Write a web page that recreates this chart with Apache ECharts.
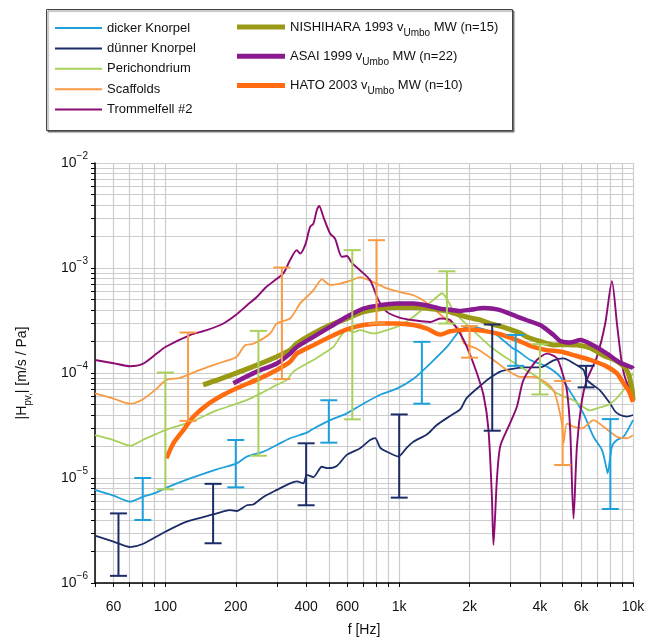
<!DOCTYPE html>
<html><head><meta charset="utf-8">
<script src="https://cdn.jsdelivr.net/npm/echarts@6/dist/echarts.min.js"></script>
<style>html,body{margin:0;padding:0;background:#fff}#c{width:648px;height:642px}</style>
</head><body><div id="c"></div>
<script>
const FONT = "'Liberation Sans', Arial, Helvetica, sans-serif";

// ---- axis ticks ----
const xGridValues = [50,60,70,80,90,100,200,300,400,500,600,700,800,900,1000,2000,3000,4000,5000,6000,7000,8000,9000,10000];
const xLabelValues = [60,100,200,400,600,1000,2000,4000,6000,10000];
const yGridValues = [1e-6,2e-6,3e-6,4e-6,5e-6,6e-6,7e-6,8e-6,9e-6,1e-5,2e-5,3e-5,4e-5,5e-5,6e-5,7e-5,8e-5,9e-5,1e-4,2e-4,3e-4,4e-4,5e-4,6e-4,7e-4,8e-4,9e-4,1e-3,2e-3,3e-3,4e-3,5e-3,6e-3,7e-3,8e-3,9e-3,1e-2];
const yLabelValues = [1e-6,1e-5,1e-4,1e-3,1e-2];

// ---- series data: [frequency Hz, |H| m/s/Pa] ----
const dickerKnorpel = [[50,7.7e-6],[60,6.8e-6],[70.6,5.96e-6],[80,6.6e-6],[91.8,7.3e-6],[100,8e-6],[127.5,9.9e-6],[165.9,1.21e-5],[201.9,1.38e-5],[222.9,1.6e-5],[262.5,1.78e-5],[299.6,2.06e-5],[341.5,2.39e-5],[402.6,2.7e-5],[429.6,2.95e-5],[506.4,3.56e-5],[597,4.13e-5],[703.3,5.1e-5],[829,6.2e-5],[977.2,7.1e-5],[1151,8.8e-5],[1357,1.23e-4],[1599,1.77e-4],[1822,2.56e-4],[1947,2.75e-4],[2011,2.8e-4],[2292,2.62e-4],[2530,2.4e-4],[2750,2.1e-4],[3082,1.7e-4],[3187,1.65e-4],[3634,1.33e-4],[4283,1.15e-4],[4884,9.2e-5],[5567,5.9e-5],[6144,4.1e-5],[6777,2.47e-5],[7363,1.85e-5],[7736,1.19e-5],[7790,1.11e-5],[8127,2e-5],[8537,2.3e-5],[9110,2.47e-5],[10000,3.56e-5]];
const duennerKnorpel = [[50,2.83e-6],[60,2.48e-6],[70.6,2.2e-6],[80,2.35e-6],[100,3.08e-6],[123.4,3.84e-6],[165.9,4.6e-6],[177,4.8e-6],[189,4.95e-6],[201.9,4.85e-6],[222.9,5.5e-6],[237.8,5.6e-6],[262.5,6.6e-6],[299.6,7.7e-6],[341.5,8.9e-6],[364.8,9.3e-6],[389.3,8.9e-6],[402.6,1.07e-5],[429.6,1.02e-5],[466.6,1.28e-5],[494,1.24e-5],[541,1.3e-5],[597,1.66e-5],[680.7,1.92e-5],[751.2,2.3e-5],[789.1,2.4e-5],[829,1.95e-5],[885.4,1.78e-5],[992.7,1.6e-5],[1078,1.95e-5],[1151,2.22e-5],[1313,2.6e-5],[1449,3.2e-5],[1651,3.9e-5],[1822,4.5e-5],[1947,5.8e-5],[2292,8e-5],[2449,9e-5],[2704,1.03e-4],[2888,1.07e-4],[3401,1.13e-4],[4010,1.13e-4],[4573,1.32e-4],[5045,1.38e-4],[5567,1.24e-4],[6144,1.07e-4],[6350,8.6e-5],[7240,6.8e-5],[7991,5.1e-5],[8395,4.3e-5],[8818,3.98e-5],[9420,3.85e-5],[10000,3.98e-5]];
const perichondrium = [[50,2.56e-5],[60,2.3e-5],[70.6,2.03e-5],[80,2.3e-5],[100,2.86e-5],[127.5,3.4e-5],[165.9,4.4e-5],[201.9,5.1e-5],[230.2,5.7e-5],[262.5,6.6e-5],[299.6,7.7e-5],[330.6,8.6e-5],[352.8,1.03e-4],[402.6,1.23e-4],[429.6,1.33e-4],[474,1.53e-4],[523.1,1.77e-4],[558.9,2.21e-4],[597,2.56e-4],[640,2.45e-4],[680.7,2.56e-4],[776,2.38e-4],[885.4,2.56e-4],[1010,2.86e-4],[1151,3.43e-4],[1313,4.4e-4],[1449,5.3e-4],[1522,5.75e-4],[1599,5.1e-4],[1706,3.9e-4],[1882,3.1e-4],[2148,2.35e-4],[2449,1.8e-4],[2888,1.38e-4],[3401,1.1e-4],[3881,9.2e-5],[4010,8.6e-5],[4728,6.4e-5],[5567,5.5e-5],[6560,4.4e-5],[7008,4.6e-5],[7991,5.1e-5],[9110,6.9e-5],[10000,1e-4]];
const scaffolds = [[50,6.4e-5],[60,5.7e-5],[70.6,5.1e-5],[80,5.6e-5],[91.8,7.1e-5],[101,8.6e-5],[115.6,9e-5],[140.7,1.07e-4],[177,1.28e-4],[201.9,1.43e-4],[219.2,1.84e-4],[237.8,1.9e-4],[280.6,2.38e-4],[299.6,2.96e-4],[341.5,3.3e-4],[376.9,4.6e-4],[402.6,5.3e-4],[429.6,6.15e-4],[455,7.4e-4],[466.6,7.8e-4],[506.4,6.9e-4],[558.9,7.1e-4],[627.3,7.65e-4],[680.7,8.2e-4],[727.2,7.8e-4],[802.5,7.1e-4],[885.4,6.4e-4],[1010,5.9e-4],[1151,5.5e-4],[1270,4.9e-4],[1401,4.1e-4],[1599,3.2e-4],[1822,2.56e-4],[1882,1.95e-4],[2148,1.7e-4],[2530,1.33e-4],[2888,1.07e-4],[3293,9.2e-5],[3754,9.2e-5],[4283,8e-5],[4573,6.8e-5],[4728,5.5e-5],[4965,3.3e-5],[5045,2.14e-5],[5217,3.3e-5],[5567,3.08e-5],[6048,2.97e-5],[6777,3.56e-5],[7480,3.08e-5],[8537,2.47e-5],[9420,2.39e-5],[10000,2.56e-5]];
const trommelfell = [[50,1.33e-4],[60,1.24e-4],[70.6,1.16e-4],[80,1.22e-4],[91.8,1.53e-4],[100,1.77e-4],[127.5,2.3e-4],[150.3,2.56e-4],[177,2.96e-4],[200,3.56e-4],[222.9,4.4e-4],[245.9,5.3e-4],[270,6.6e-4],[299.6,7.9e-4],[320,8.9e-4],[341.5,1.19e-3],[364.8,1.48e-3],[376.9,1.37e-3],[395.9,1.65e-3],[415.9,2.46e-3],[429.6,2.65e-3],[444.3,3.55e-3],[455,3.9e-3],[474,3.06e-3],[506.4,2.13e-3],[531.9,1.9e-3],[568.3,1.28e-3],[597,1.3e-3],[627.3,1.12e-3],[680.7,9.5e-4],[751.2,7.65e-4],[815.2,4.94e-4],[885.4,3.82e-4],[1010,3.35e-4],[1151,3.18e-4],[1357,3.06e-4],[1497,3.3e-4],[1651,3.2e-4],[1822,2.38e-4],[1947,1.77e-4],[2148,1e-4],[2300,6e-5],[2410,2.86e-5],[2492,6.6e-6],[2530,2.3e-6],[2617,9.6e-6],[2704,2e-5],[2934,3.08e-5],[3187,4.77e-5],[3401,8.6e-5],[3881,1.33e-4],[4283,1.53e-4],[4728,1.38e-4],[5045,9.2e-5],[5217,6.8e-5],[5388,2.86e-5],[5567,4.1e-6],[5757,2e-5],[6048,5.5e-5],[6350,8.6e-5],[7008,1.43e-4],[7607,2.96e-4],[8127,7.5e-4],[8537,2.96e-4],[8968,1.23e-4],[9420,8e-5],[10000,6.5e-5]];
const nishihara = [[145,7.7e-5],[189.1,9.5e-5],[245.9,1.19e-4],[299.6,1.43e-4],[341.5,1.65e-4],[364.8,1.91e-4],[429.6,2.38e-4],[506.4,2.86e-4],[597,3.3e-4],[703.3,3.82e-4],[829,4.1e-4],[977.2,4.2e-4],[1151,4.2e-4],[1357,4.1e-4],[1599,3.9e-4],[1822,3.56e-4],[2011,3.35e-4],[2219,3.2e-4],[2449,2.95e-4],[2704,2.8e-4],[2984,2.6e-4],[3293,2.4e-4],[3517,2.2e-4],[4010,2e-4],[4573,1.85e-4],[5217,1.86e-4],[5757,1.85e-4],[6560,1.73e-4],[7480,1.47e-4],[8537,1.3e-4],[9420,1.06e-4],[9894,7.2e-5],[10000,5.5e-5]];
const asai = [[195.3,8e-5],[245.9,1.03e-4],[299.6,1.23e-4],[341.5,1.53e-4],[364.8,1.77e-4],[429.6,2.21e-4],[506.4,2.75e-4],[597,3.43e-4],[703.3,4.1e-4],[829,4.43e-4],[977.2,4.6e-4],[1151,4.6e-4],[1313,4.4e-4],[1497,4.1e-4],[1651,4e-4],[1822,3.9e-4],[2011,4e-4],[2292,4.15e-4],[2530,4.1e-4],[2704,3.97e-4],[3187,3.45e-4],[3517,3.18e-4],[4010,2.86e-4],[4573,2.3e-4],[4884,2.02e-4],[5388,1.95e-4],[5947,2.06e-4],[6777,1.83e-4],[7736,1.53e-4],[8818,1.25e-4],[9894,1.13e-4],[10000,1.1e-4]];
const hato = [[101,1.54e-5],[108.2,2.14e-5],[119.4,2.86e-5],[131.7,3.83e-5],[150.3,4.95e-5],[177,6.2e-5],[208.7,7.4e-5],[245.9,8.6e-5],[299.6,1.07e-4],[341.5,1.28e-4],[364.8,1.53e-4],[429.6,1.84e-4],[506.4,2.21e-4],[597,2.6e-4],[703.3,2.86e-4],[829,2.96e-4],[977.2,2.96e-4],[1151,2.86e-4],[1313,2.65e-4],[1497,2.32e-4],[1651,2.5e-4],[1822,2.56e-4],[1947,2.6e-4],[2292,2.52e-4],[2704,2.34e-4],[3187,2.06e-4],[3754,1.77e-4],[4283,1.65e-4],[4884,1.6e-4],[5567,1.48e-4],[6560,1.33e-4],[7736,1.15e-4],[8537,9.9e-5],[9110,8e-5],[9570,6.8e-5],[10000,5.3e-5]];

// ---- error bars: [frequency, low, high] ----
const errDuenner = [[63,1.17e-6,4.6e-6],[160,2.39e-6,8.8e-6],[400,5.5e-6,2.14e-5],[1000,6.5e-6,4.03e-5],[2500,2.82e-5,2.9e-4],[6300,7.3e-5,1.17e-4]];
const errDicker = [[80,3.98e-6,1e-5],[200,8.15e-6,2.3e-5],[500,2.17e-5,5.5e-5],[1250,5.1e-5,1.98e-4],[3150,1.17e-4,2.3e-4],[8000,5.07e-6,3.64e-5]];
const errPeri = [[100,7.8e-6,1.01e-4],[250,1.63e-5,2.52e-4],[630,3.62e-5,1.48e-3],[1600,2.96e-4,9.3e-4],[4000,6.25e-5,1.88e-4]];
const errScaff = [[125,3.5e-5,2.43e-4],[315,8.75e-5,1.01e-3],[800,2.96e-4,1.84e-3],[2000,1.4e-4,2.8e-4],[5000,1.33e-5,8.4e-5]];

const names = ['dicker Knorpel','dünner Knorpel','Perichondrium','Scaffolds','Trommelfell #2'];
const refNames = ['NISHIHARA 1993 v_Umbo MW (n=15)','ASAI 1999 v_Umbo MW (n=22)','HATO 2003 v_Umbo MW (n=10)'];
const C = {dicker:'#1ea0dc', duenner:'#1b2d68', peri:'#a9d05b', scaff:'#f99a44', tromm:'#8c0b72', nish:'#9b9a16', asai:'#8a1a8f', hato:'#ff6b0e'};

const thinIcon = 'path://M0,0L47,0L47,2L0,2Z';
const thickIcon = 'path://M0,0L48,0L48,5L0,5Z';

function lineS(name, data, color, width, z) {
  return {type:'line', name, data, smooth:0.25, showSymbol:false, symbol:'none', z,
    lineStyle:{color, width}, itemStyle:{color}, emphasis:{disabled:true}};
}
function errS(name, data, color) {
  return {type:'custom', name, data, z:6, silent:true,
    encode:{x:0, y:[1,2]},
    renderItem(params, api) {
      const f = api.value(0);
      const lo = api.coord([f, api.value(1)]);
      const hi = api.coord([f, api.value(2)]);
      const hw = 8.5;
      const st = {stroke:color, lineWidth:2};
      return {type:'group', children:[
        {type:'line', shape:{x1:lo[0], y1:lo[1], x2:hi[0], y2:hi[1]}, style:st},
        {type:'line', shape:{x1:lo[0]-hw, y1:lo[1], x2:lo[0]+hw, y2:lo[1]}, style:st},
        {type:'line', shape:{x1:hi[0]-hw, y1:hi[1], x2:hi[0]+hw, y2:hi[1]}, style:st}
      ]};
    }};
}

const chart = echarts.init(document.getElementById('c'), null, {renderer:'canvas'});
chart.setOption({
  animation:false,
  backgroundColor:'#fff',
  textStyle:{fontFamily:FONT},
  grid:{left:95, right:15, top:163, bottom:59, containLabel:false},
  graphic:[{type:'rect', left:46, top:9, z:0, shape:{width:466, height:121},
    style:{fill:'#fff', stroke:'#444', lineWidth:1, shadowColor:'rgba(0,0,0,0.45)', shadowOffsetX:1.5, shadowOffsetY:1.5, shadowBlur:1}}],
  legend:[
    {data:names.map(n => ({name:n, icon:thinIcon})), orient:'vertical', left:50, top:16, itemWidth:47, itemHeight:14, itemGap:6.4, selectedMode:false,
      textStyle:{fontSize:13, fontFamily:FONT, color:'#111', lineHeight:14}},
    {data:refNames.map(n => ({name:n, icon:thickIcon})), orient:'vertical', left:232, top:11, itemWidth:48, itemHeight:14, itemGap:7.2, selectedMode:false,
      formatter: n => n.replace('v_Umbo', 'v{sub|Umbo}'),
      textStyle:{fontSize:13, fontFamily:FONT, color:'#111', lineHeight:22,
        rich:{sub:{fontSize:10, lineHeight:10, verticalAlign:'bottom', fontFamily:FONT, color:'#111'}}}}
  ],
  xAxis:{type:'log', logBase:10, min:50, max:10000,
    name:'f [Hz]', nameLocation:'middle', nameGap:40, nameTextStyle:{fontSize:14, color:'#111', fontFamily:FONT},
    axisLine:{show:true, onZero:false, lineStyle:{color:'#000', width:1.5}},
    axisTick:{show:true, customValues:xGridValues, length:4, lineStyle:{color:'#000'}},
    axisLabel:{customValues:xLabelValues, margin:17, fontSize:14, color:'#111', fontFamily:FONT,
      formatter: v => v >= 1000 ? (Math.round(v/1000) + 'k') : String(Math.round(v))},
    splitLine:{show:true, lineStyle:{color:'#cdcdcd', width:1.2}},
    minorTick:{show:false}, minorSplitLine:{show:false}},
  yAxis:{type:'log', logBase:10, min:1e-6, max:1e-2,
    name:'|H{sub|pv,}| [m/s / Pa]', nameLocation:'middle', nameRotate:90, nameGap:62,
    nameTextStyle:{fontSize:14, color:'#111', fontFamily:FONT, lineHeight:22,
      rich:{sub:{fontSize:10, lineHeight:10, verticalAlign:'bottom', fontFamily:FONT, color:'#111'}}},
    axisLine:{show:true, onZero:false, lineStyle:{color:'#000', width:1.5}},
    axisTick:{show:true, customValues:yGridValues, length:4, lineStyle:{color:'#000'}},
    axisLabel:{customValues:yLabelValues, margin:7, fontSize:14, color:'#111', fontFamily:FONT, lineHeight:24,
      formatter: v => '10{sup|−' + Math.round(-Math.log10(v)) + '}',
      rich:{sup:{fontSize:10, lineHeight:10, verticalAlign:'top', fontFamily:FONT, color:'#111'}}},
    splitLine:{show:true, lineStyle:{color:'#cdcdcd', width:1.2}}},
  series:[
    lineS(names[0], dickerKnorpel, C.dicker, 1.8, 2),
    lineS(names[1], duennerKnorpel, C.duenner, 1.8, 2),
    lineS(names[2], perichondrium, C.peri, 1.8, 2),
    lineS(names[3], scaffolds, C.scaff, 1.8, 2),
    lineS(names[4], trommelfell, C.tromm, 1.9, 2),
    lineS(refNames[0], nishihara, C.nish, 5, 3),
    lineS(refNames[1], asai, C.asai, 4.5, 3),
    lineS(refNames[2], hato, C.hato, 4.5, 3),
    errS('errDuenner', errDuenner, C.duenner),
    errS('errDicker', errDicker, C.dicker),
    errS('errPeri', errPeri, C.peri),
    errS('errScaff', errScaff, C.scaff)
  ]
});
</script></body></html>
